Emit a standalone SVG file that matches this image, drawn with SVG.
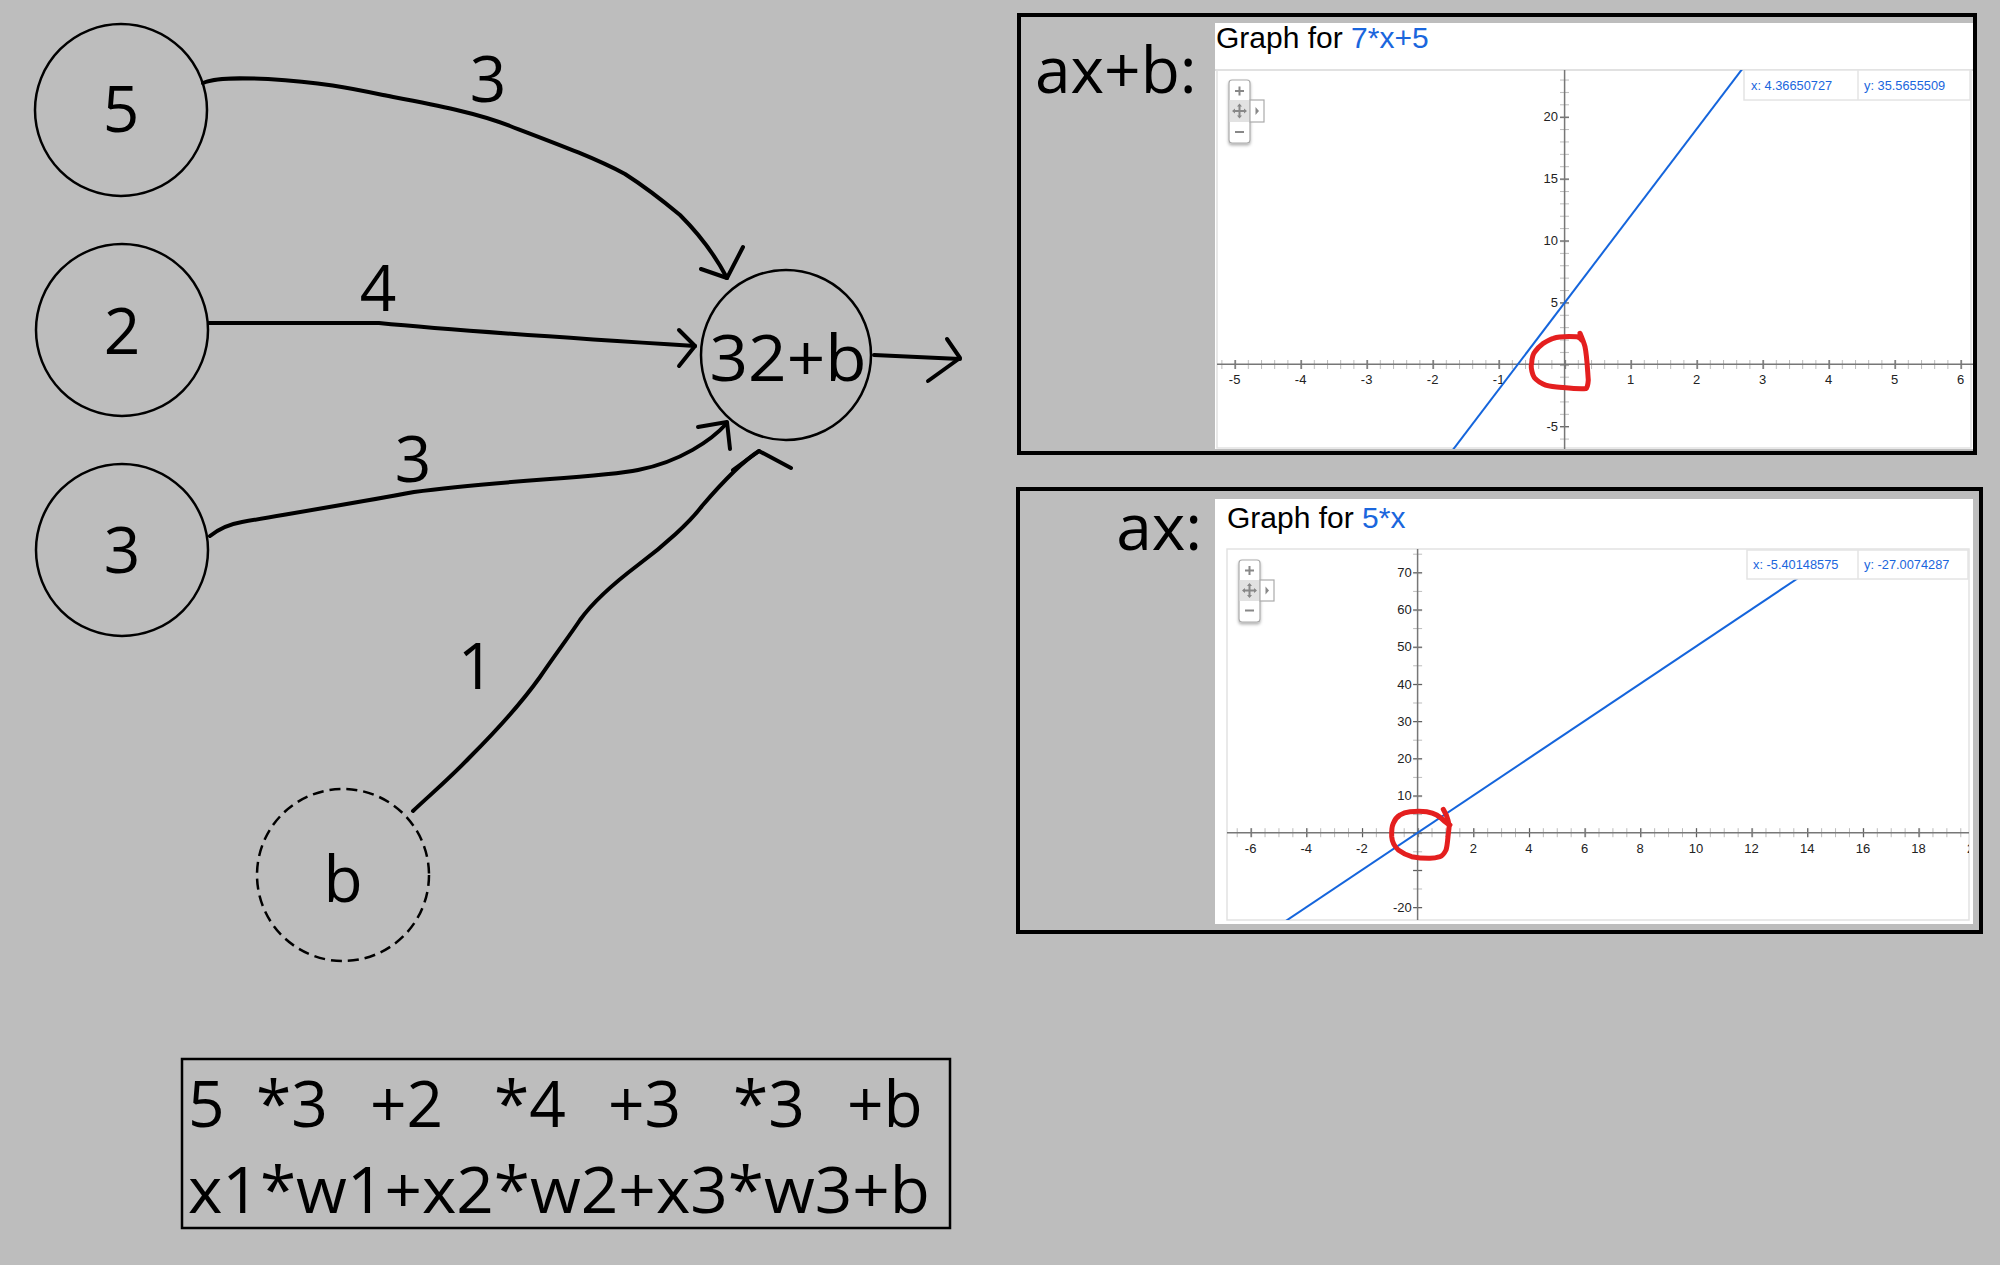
<svg xmlns="http://www.w3.org/2000/svg" width="2000" height="1265" viewBox="0 0 2000 1265">
<style>
.bg{fill:#bdbdbd}
.node{fill:none;stroke:#000;stroke-width:2.5}
.dash{stroke-dasharray:11 6}
.big{font-family:"Open Sans","Liberation Sans",sans-serif;font-size:64px;fill:#000}
.edge{fill:none;stroke:#000;stroke-width:4;stroke-linecap:round;stroke-linejoin:round}
.panel{fill:none;stroke:#000;stroke-width:4}
.title{font-family:"Liberation Sans",Arial,sans-serif;font-size:30px;fill:#000}
.blue{fill:#1a66dd}
.tick{font-family:"Liberation Sans",Arial,sans-serif;font-size:13px;fill:#222}
.ttxt{font-family:"Liberation Sans",Arial,sans-serif;font-size:12.8px;fill:#1a66dd}
.axis{stroke:#777;stroke-width:1.5}
.gline{fill:none;stroke:#1565dc;stroke-width:2}
.red{fill:none;stroke:#e41f1f;stroke-width:5;stroke-linecap:round;stroke-linejoin:round}
.tip{fill:#fff;stroke:#e4e4e4;stroke-width:1.5}
.ctl{fill:#fff;stroke:#aaa;stroke-width:1.2}
.cg{stroke:#888;stroke-width:2}
</style>
<defs>
<pattern id="tmx1" patternUnits="userSpaceOnUse" x="1564.6" y="0" width="13.2" height="10"><line x1="0.5" y1="0" x2="0.5" y2="10" stroke="#bbb" stroke-width="1"/></pattern>
<pattern id="tMx1" patternUnits="userSpaceOnUse" x="1564.6" y="0" width="66" height="10"><line x1="0.5" y1="0" x2="0.5" y2="10" stroke="#555" stroke-width="1.3"/></pattern>
<pattern id="tmy1" patternUnits="userSpaceOnUse" x="0" y="364.3" width="10" height="12.38"><line x1="0" y1="0.5" x2="10" y2="0.5" stroke="#bbb" stroke-width="1"/></pattern>
<pattern id="tMy1" patternUnits="userSpaceOnUse" x="0" y="364.3" width="10" height="61.9"><line x1="0" y1="0.5" x2="10" y2="0.5" stroke="#555" stroke-width="1.3"/></pattern>
<pattern id="tmx2" patternUnits="userSpaceOnUse" x="1417.6" y="0" width="13.915" height="10"><line x1="0.5" y1="0" x2="0.5" y2="10" stroke="#bbb" stroke-width="1"/></pattern>
<pattern id="tMx2" patternUnits="userSpaceOnUse" x="1417.6" y="0" width="55.66" height="10"><line x1="0.5" y1="0" x2="0.5" y2="10" stroke="#555" stroke-width="1.3"/></pattern>
<pattern id="tmy2" patternUnits="userSpaceOnUse" x="0" y="832.7" width="10" height="18.6"><line x1="0" y1="0.5" x2="10" y2="0.5" stroke="#bbb" stroke-width="1"/></pattern>
<pattern id="tMy2" patternUnits="userSpaceOnUse" x="0" y="832.7" width="10" height="37.2"><line x1="0" y1="0.5" x2="10" y2="0.5" stroke="#555" stroke-width="1.3"/></pattern>
<clipPath id="clip1"><rect x="1217" y="70" width="756" height="379"/></clipPath>
<clipPath id="clip2"><rect x="1227" y="549" width="742" height="371"/></clipPath>
<filter id="sh" x="-30%" y="-10%" width="160%" height="130%"><feDropShadow dx="0" dy="2" stdDeviation="1.5" flood-color="#000" flood-opacity="0.3"/></filter>
</defs>
<rect class="bg" x="0" y="0" width="2000" height="1265"/>

<g id="connectors">
<path class="edge" d="M203,83 C215,77 245,78 268,79 C320,82 350,88 383,95 C430,104 475,112 510,126 C560,145 595,158 625,174 C650,190 668,205 680,215 C700,235 715,255 727,278"/>
<path class="edge" d="M701,269 L727,278 L743,247"/>
<path class="edge" d="M209,323 L379,323 C450,330 600,340 695,346"/>
<path class="edge" d="M679,330 L695,346 L679,366"/>
<path class="edge" d="M210,536 C220,528 230,524 242,522 C300,512 360,502 414,492 C500,480 600,478 638,470 C680,462 712,440 727,423"/>
<path class="edge" d="M698,427 L727,422 L730,449"/>
<path class="edge" d="M413,811 C430,795 450,778 470,757 C495,732 520,705 540,677 C555,655 570,635 580,620 C590,606 605,590 638,565 C665,545 690,522 702,506 C720,485 740,463 759,451"/>
<path class="edge" d="M733,470 L759,451 L791,468"/>
<path class="edge" d="M874,355 L960,359"/>
<path class="edge" d="M947,339 L960,358 L928,381"/>
<text class="big" x="488" y="102" text-anchor="middle">3</text>
<text class="big" x="378" y="311" text-anchor="middle">4</text>
<text class="big" x="413" y="482" text-anchor="middle">3</text>
<text class="big" x="476" y="689" text-anchor="middle">1</text>
</g>

<g id="node-x1"><circle class="node" cx="121" cy="110" r="86"/><text class="big" x="121" y="132" text-anchor="middle">5</text></g>
<g id="node-x2"><circle class="node" cx="122" cy="330" r="86"/><text class="big" x="122" y="354" text-anchor="middle">2</text></g>
<g id="node-x3"><circle class="node" cx="122" cy="550" r="86"/><text class="big" x="122" y="573" text-anchor="middle">3</text></g>
<g id="node-b"><circle class="node dash" cx="343" cy="875" r="86"/><text class="big" x="343" y="902" text-anchor="middle">b</text></g>
<g id="node-sum"><circle class="node" cx="786" cy="355" r="85"/><text class="big" x="788" y="381" text-anchor="middle" font-size="67" textLength="157" lengthAdjust="spacingAndGlyphs">32+b</text></g>

<g id="formula">
<rect x="182" y="1059" width="768" height="169" fill="none" stroke="#000" stroke-width="2.5"/>
<text class="big" y="1127"><tspan x="188">5</tspan><tspan x="256">*3</tspan><tspan x="370">+2</tspan><tspan x="494">*4</tspan><tspan x="608">+3</tspan><tspan x="733">*3</tspan><tspan x="847">+b</tspan></text>
<text class="big" x="188" y="1213" textLength="742" lengthAdjust="spacingAndGlyphs">x1*w1+x2*w2+x3*w3+b</text>
</g>

<g id="panel-axb">
<rect class="panel" x="1019" y="15" width="956" height="438"/>
<text class="big" x="1035" y="93" font-size="66">ax+b:</text>
<rect x="1215" y="23" width="758" height="426" fill="#fff"/>
<text class="title" x="1216" y="48">Graph for <tspan class="blue">7*x+5</tspan></text>
<line x1="1215" y1="70" x2="1973" y2="70" stroke="#ddd" stroke-width="2"/>
<rect x="1217" y="70" width="754" height="378" fill="none" stroke="#e2e2e2" stroke-width="1.5"/>
<g clip-path="url(#clip1)">
<rect x="1217" y="360" width="756" height="9" fill="url(#tmx1)"/>
<rect x="1217" y="360" width="756" height="9" fill="url(#tMx1)"/>
<rect x="1560" y="70" width="9" height="379" fill="url(#tmy1)"/>
<rect x="1560" y="70" width="9" height="379" fill="url(#tMy1)"/>
<line class="axis" x1="1217" y1="364.3" x2="1973" y2="364.3"/>
<line class="axis" x1="1564.6" y1="70" x2="1564.6" y2="449"/>
<g class="tick" text-anchor="middle">
<text x="1234.6" y="384">-5</text><text x="1300.6" y="384">-4</text><text x="1366.6" y="384">-3</text><text x="1432.6" y="384">-2</text><text x="1498.6" y="384">-1</text>
<text x="1630.6" y="384">1</text><text x="1696.6" y="384">2</text><text x="1762.6" y="384">3</text><text x="1828.6" y="384">4</text><text x="1894.6" y="384">5</text><text x="1960.6" y="384">6</text>
</g>
<g class="tick" text-anchor="end">
<text x="1558" y="121">20</text><text x="1558" y="183">15</text><text x="1558" y="244.5">10</text><text x="1558" y="306.5">5</text><text x="1558" y="430.5">-5</text>
</g>
<line class="gline" x1="1452" y1="451" x2="1743" y2="68"/>
</g>
<rect class="tip" x="1744" y="70" width="226" height="30"/>
<line x1="1858" y1="70" x2="1858" y2="100" stroke="#e4e4e4" stroke-width="1.5"/>
<text class="ttxt" x="1751" y="89.5">x: 4.36650727</text>
<text class="ttxt" x="1864" y="89.5">y: 35.5655509</text>
<g filter="url(#sh)"><rect class="ctl" x="1229" y="80" width="21" height="63" rx="3"/></g>
<rect x="1229.6" y="100" width="20" height="22" fill="#e2e2e2"/>
<rect class="ctl" x="1250" y="100" width="14" height="22" fill="#f4f4f4"/>
<path d="M1255.5,107 L1259,111 L1255.5,115 Z" fill="#888"/>
<path class="cg" d="M1235,91 H1244 M1239.5,86.5 V95.5 M1235,132 H1244 M1233.5,111 H1245.5 M1239.5,105 V117"/>
<path d="M1232,111 L1235,108.5 V113.5 Z M1247,111 L1244,108.5 V113.5 Z M1239.5,103.5 L1237,106.5 H1242 Z M1239.5,118.5 L1237,115.5 H1242 Z" fill="#888"/>
<path class="red" d="M1580,333.3 C1582,338 1584,343 1585,346.7 C1587,356 1587.5,370 1588.3,380 C1588,385 1587,388 1586,388.5 C1580,389.5 1568,388 1556.7,387 C1550,386.5 1545,385 1543,384 C1537,381 1534,378 1533,375 C1531,369 1531,365 1531.7,363 C1532,357 1533,354 1535,351.7 C1538,347 1541,345 1543.3,343.3 C1547,341 1551,339 1553.3,338.3 C1560,336 1570,336.3 1576.7,336.7 C1579,337.5 1581,339 1581.7,340"/>
</g>

<g id="panel-ax">
<rect class="panel" x="1018" y="489" width="963" height="443"/>
<text class="big" x="1202" y="550" font-size="66" text-anchor="end">ax:</text>
<rect x="1215" y="499" width="758" height="425" fill="#fff"/>
<text class="title" x="1227" y="528">Graph for <tspan class="blue">5*x</tspan></text>
<rect x="1227" y="549" width="742" height="371" fill="none" stroke="#e2e2e2" stroke-width="1.5"/>
<g clip-path="url(#clip2)">
<rect x="1227" y="828.2" width="742" height="9" fill="url(#tmx2)"/>
<rect x="1227" y="828.2" width="742" height="9" fill="url(#tMx2)"/>
<rect x="1413.1" y="549" width="9" height="371" fill="url(#tmy2)"/>
<rect x="1413.1" y="549" width="9" height="371" fill="url(#tMy2)"/>
<line class="axis" x1="1227" y1="832.7" x2="1969" y2="832.7"/>
<line class="axis" x1="1417.6" y1="549" x2="1417.6" y2="920"/>
<g class="tick" text-anchor="middle">
<text x="1250.6" y="852.5">-6</text><text x="1306.3" y="852.5">-4</text><text x="1361.9" y="852.5">-2</text>
<text x="1473.3" y="852.5">2</text><text x="1528.9" y="852.5">4</text><text x="1584.6" y="852.5">6</text><text x="1640.2" y="852.5">8</text><text x="1695.9" y="852.5">10</text><text x="1751.6" y="852.5">12</text><text x="1807.2" y="852.5">14</text><text x="1862.9" y="852.5">16</text><text x="1918.5" y="852.5">18</text><text x="1974.2" y="852.5">20</text>
</g>
<g class="tick" text-anchor="end">
<text x="1411.7" y="577">70</text><text x="1411.7" y="614">60</text><text x="1411.7" y="651">50</text><text x="1411.7" y="688.5">40</text><text x="1411.7" y="725.5">30</text><text x="1411.7" y="762.5">20</text><text x="1411.7" y="800">10</text><text x="1411.7" y="911.5">-20</text>
</g>
<line class="gline" x1="1282" y1="923.5" x2="1805" y2="573.5"/>
</g>
<rect class="tip" x="1747" y="550" width="221" height="29"/>
<line x1="1858" y1="550" x2="1858" y2="579" stroke="#e4e4e4" stroke-width="1.5"/>
<text class="ttxt" x="1753" y="569">x: -5.40148575</text>
<text class="ttxt" x="1864" y="569">y: -27.0074287</text>
<g filter="url(#sh)"><rect class="ctl" x="1239" y="560" width="21" height="62" rx="3"/></g>
<rect x="1239.6" y="580" width="20" height="21" fill="#e2e2e2"/>
<rect class="ctl" x="1260" y="580" width="14" height="21" fill="#f4f4f4"/>
<path d="M1265.5,586.5 L1269,590.5 L1265.5,594.5 Z" fill="#888"/>
<path class="cg" d="M1245,570.5 H1254 M1249.5,566 V575 M1245,610.5 H1254 M1243.5,590.5 H1255.5 M1249.5,584.5 V596.5"/>
<path d="M1242,590.5 L1245,588 V593 Z M1257,590.5 L1254,588 V593 Z M1249.5,583 L1247,586 H1252 Z M1249.5,598 L1247,595 H1252 Z" fill="#888"/>
<path class="red" d="M1443.3,809.3 C1445,812 1447,816 1448,820 C1449,824 1449.5,826 1449,828 C1448.5,833 1448,836 1448,836.7 C1447.5,842 1447,847 1446,850 C1444,854 1442,856 1440,856.7 C1436,858 1432,858.5 1428.3,858.3 C1422,858.3 1416,857.5 1411.7,856.7 C1406,855 1401,852 1398.3,850 C1394,846 1392,841 1391.7,836.7 C1391.5,831 1392,826 1393.3,823.3 C1395,819 1397.5,816.5 1400,815 C1403,813 1407,812 1410,811.7 C1416,811 1422,811 1426.7,811.7 C1431,812.5 1434,813.5 1436.7,815 C1440,817 1443,819.5 1445,821.7 C1447,823.5 1448.5,824.5 1450,825"/>
</g>
</svg>
